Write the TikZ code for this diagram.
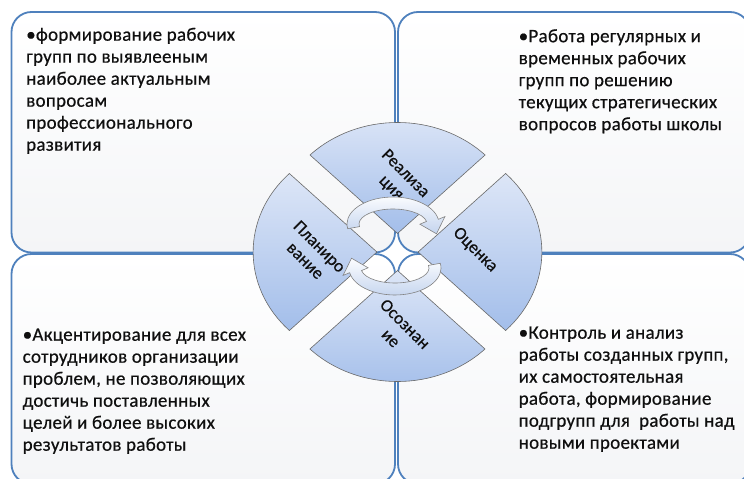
\documentclass[tikz,border=0pt]{standalone}
\usepackage{fontspec}
\setmainfont{Carlito}
\newfontfamily\qfont{Carlito}[LetterSpace=1.5,FakeBold=0.5]
\newfontfamily\lfont{Carlito}[FakeBold=0.4]
\definecolor{boxline}{RGB}{79,129,189}
\definecolor{boxbot}{RGB}{244,245,247}
\definecolor{wedgetop}{RGB}{221,230,247}
\definecolor{wedgebot}{RGB}{163,190,234}
\definecolor{wedgeline}{RGB}{105,105,105}
\definecolor{arrtop}{RGB}{252,253,255}
\definecolor{arrbot}{RGB}{196,212,238}
\definecolor{arrline}{RGB}{130,130,130}
\definecolor{txt}{RGB}{15,15,15}
\tikzset{
  qbox/.style={draw=boxline, line width=1.8pt, rounded corners=20pt, top color=white, bottom color=boxbot},
  wedge/.style={draw=wedgeline, line width=0.6pt, top color=wedgetop, bottom color=wedgebot},
  cyclearrow/.style={draw=arrline, line width=0.6pt, top color=arrtop, bottom color=arrbot},
  qtext/.style={font=\qfont\fontsize{19}{22}\selectfont, align=left, inner sep=0pt, anchor=north west, text=txt},
  wlabel/.style={font=\lfont\fontsize{17.5}{20}\selectfont, align=center, inner sep=0pt, rotate=-45, text=txt}
}
\begin{document}
\begin{tikzpicture}[x=1pt,y=-1pt]
\useasboundingbox (0,0) rectangle (744,479);
\clip (0,0) rectangle (744,479);
\fill[white] (0,0) rectangle (744,479);

% quadrant boxes
\path[qbox] (11.5,12) rectangle (395,252.5);
\path[qbox] (398,12) rectangle (750,252.5);
\path[qbox] (11.5,254) rectangle (395,484);
\path[qbox] (398,254) rectangle (750,484);

% texts
\node[qtext] (tltext) at (26,24.5) {\rule{0pt}{16pt}•формирование рабочих\\групп по выявлееным\\наиболее актуальным\\вопросам\\профессионального\\развития};
\node[qtext] (trtext) at (518.5,26) {\rule{0pt}{16pt}•Работа регулярных и\\временных рабочих\\групп по решению\\текущих стратегических\\вопросов работы школы};
\node[qtext] (bltext) at (22.5,324.5) {\rule{0pt}{16pt}•Акцентирование для всех\\сотрудников организации\\проблем, не позволяющих\\достичь поставленных\\целей и более высоких\\результатов работы};
\node[qtext] (brtext) at (518.5,322.5) {\rule{0pt}{16pt}•Контроль и анализ\\работы созданных групп,\\их самостоятельная\\работа, формирование\\подгрупп для~ работы над\\новыми проектами};

% central wedges
\path[wedge] (397.5,233.5) -- ++(-87.5,-78.5) arc[start angle=225,end angle=315,x radius=123.8,y radius=111] -- cycle;
\path[wedge] (418.1,252) -- ++(87.5,-78.5) arc[start angle=-45,end angle=45,x radius=123.8,y radius=111] -- cycle;
\path[wedge] (397.5,270.5) -- ++(87.5,78.5) arc[start angle=45,end angle=135,x radius=123.8,y radius=111] -- cycle;
\path[wedge] (376.9,252) -- ++(-87.5,78.5) arc[start angle=135,end angle=225,x radius=123.8,y radius=111] -- cycle;

% wedge labels
\node[wlabel] (ltop) at (398,181) {Реализа\\ция};
\node[wlabel] (lright) at (475,250) {Оценка};
\node[wlabel] (lleft) at (312.5,253.5) {Планиро\\вание};
\node[wlabel] (lbottom) at (398,331) {Осознан\\ие};

% cycle arrows
\path[cyclearrow] (347.7,228.7) arc[start angle=170,end angle=350,x radius=46,y radius=27]
  -- (444.9,216.6) -- (436.5,233.8) -- (419.9,224.2) -- (426.5,221.4)
  arc[start angle=350,end angle=170,x radius=34,y radius=15] -- cycle;
\path[cyclearrow] (440.3,263.3) arc[start angle=350,end angle=530,x radius=46,y radius=27]
  -- (343.1,275.4) -- (351.5,258.2) -- (368.1,267.8) -- (361.5,270.6)
  arc[start angle=530,end angle=350,x radius=34,y radius=15] -- cycle;
\end{tikzpicture}
\end{document}
